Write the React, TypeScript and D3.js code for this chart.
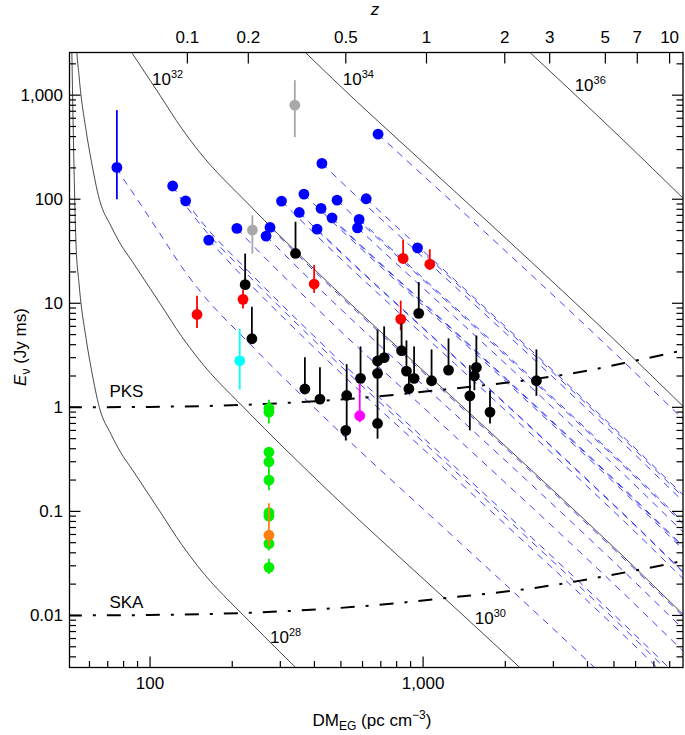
import React from 'react';
import * as d3 from 'd3';

const templateDM = [51.5, 52.5, 53.5, 55, 58.3, 61, 65.2, 72, 78, 86, 100, 108.8, 130.6, 149.8, 232, 380, 571, 822, 1306, 2042, 2493, 4188, 5395, 8913, 9500];
const templateE28 = [5000, 300, 40, 15, 4.6, 2.3, 1.0, 0.55, 0.37, 0.253, 0.139, 0.0995, 0.0479, 0.0296, 0.00869, 0.00241, 8.7e-4, 3.61e-4, 1.19e-4, 4.04e-5, 2.49e-5, 6.98e-6, 3.72e-6, 1.035e-6, 8.8e-7];

const energyExps = [28, 30, 32, 34, 36];
// label anchors [DM, E] (left edge, baseline)
const energyLabelPos: [number, number][] = [[275, 0.00544], [1546, 0.00828], [101.7, 1253], [508, 1253], [3589, 1097]];

// survey sensitivity lines
const pksDM = [50, 100, 250, 586, 1306, 2600, 4000, 5957, 8473, 9500];
const pksE = [1.0, 1.01, 1.07, 1.23, 1.52, 1.88, 2.25, 2.8, 3.42, 3.7];
const skaDM = [50, 100, 250, 586, 1306, 2600, 4000, 5957, 8473, 9500];
const skaE = [0.01, 0.0101, 0.0107, 0.0122, 0.015, 0.0185, 0.0222, 0.027, 0.0325, 0.035];

// bursts: [DM, E, low, high]
const blueBursts: number[][] = [
  [75.6, 202, 100, 718], [121, 134, 134, 134], [135, 96.5, 96.5, 96.5], [164, 40.5, 40.5, 40.5],
  [208, 52.4, 52.4, 52.4], [266, 44.2, 44.2, 44.2], [275, 53.6, 53.6, 53.6], [303, 96, 96, 96],
  [352, 74.6, 74.6, 74.6], [366, 112, 112, 112], [409, 51.6, 51.6, 51.6], [423, 81.6, 81.6, 81.6],
  [426, 221, 221, 221], [464, 66.2, 66.2, 66.2], [484, 98, 98, 98], [575, 53.1, 53.1, 53.1],
  [583, 64, 64, 64], [619, 101, 101, 101], [684, 422, 422, 422], [954, 34.1, 34.1, 34.1],
];
const blackBursts: number[][] = [
  [223, 15.1, 15.1, 30], [236, 4.56, 4.56, 9.25], [341, 30.1, 30.1, 60.7], [369, 1.5, 1.5, 3.03],
  [419, 1.2, 1.2, 2.43], [525, 1.3, 0.6, 2.6], [521, 0.6, 0.48, 0.6], [590, 1.9, 1.9, 3.85],
  [681, 2.79, 2.79, 5.6], [720, 3.0, 3.0, 6.0], [681, 2.12, 2.12, 2.79], [681, 0.7, 0.5, 2.12],
  [834, 3.5, 3.5, 6.4], [869, 2.23, 2.23, 4.4], [927, 1.9, 1.9, 3.85], [887, 1.51, 1.35, 2.23],
  [964, 8.0, 8.0, 16], [1074, 1.8, 1.8, 3.6], [1239, 2.28, 2.28, 4.6], [1567, 2.42, 2.42, 4.9],
  [1541, 2.0, 1.46, 2.42], [1483, 1.29, 0.6, 2.54], [1758, 0.9, 0.7, 1.45], [2600, 1.8, 1.29, 3.6],
];
const redBursts: number[][] = [
  [148.6, 7.8, 5.8, 11.8], [219, 10.9, 8.9, 13.4], [399, 15.3, 12.6, 23.3],
  [845, 27, 24, 41], [1058, 23.7, 21, 33], [828, 7.05, 5.5, 10.6],
];
const grayBursts: number[][] = [[339, 801, 395, 1393], [237, 50.5, 30, 70]];
const cyanBursts: number[][] = [[213, 2.8, 1.48, 5.66]];
const magentaBursts: number[][] = [[586, 0.83, 0.72, 1.68]];
const greenBursts: number[][] = [
  [272.5, 0.98, 0.9, 1.18], [272.5, 0.9, 0.7, 0.98], [272.5, 0.37, 0.3, 0.37], [272.5, 0.3, 0.3, 0.37],
  [272.5, 0.2, 0.16, 0.3], [272.5, 0.097, 0.09, 0.1], [272.5, 0.09, 0.09, 0.097],
  [272.5, 0.049, 0.042, 0.06], [272.5, 0.029, 0.025, 0.035],
];
const orangeBursts: number[][] = [[272.5, 0.059, 0.046, 0.12]];

// axes
const xTickVals = [100, 1000];
const xTickLabels = ['100', '1,000'];
const yTickVals = [0.01, 0.1, 1, 10, 100, 1000];
const yTickLabels = ['0.01', '0.1', '1', '10', '100', '1,000'];
const zTickLabels = ['0.1', '0.2', '0.5', '1', '2', '3', '5', '7', '10'];
const zTickDM = [137, 229, 521, 1029, 1991, 2908, 4650, 6087, 7993];

const W = 685, H = 735;
const X0 = 69.5, X1 = 683, Y0 = 52.5, Y1 = 667.5;
const FONT = '"Liberation Sans", Arial, Helvetica, sans-serif';

function templateAt(dm: number): number {
  const lx = Math.log10(dm);
  for (let i = 0; i < templateDM.length - 1; i++) {
    const a = Math.log10(templateDM[i]), b = Math.log10(templateDM[i + 1]);
    if (lx >= a && lx <= b) {
      const t = (lx - a) / (b - a);
      return 10 ** (Math.log10(templateE28[i]) * (1 - t) + Math.log10(templateE28[i + 1]) * t);
    }
  }
  return templateE28[templateE28.length - 1];
}

const isMajor = (v: number) => Math.abs(Math.log10(v) - Math.round(Math.log10(v))) < 1e-6;

export default function App() {
  const x = d3.scaleLog().domain([50.7, 8950]).range([X0, X1]);
  const y = d3.scaleLog().domain([0.00316, 2570]).range([Y1, Y0]);
  const line = d3.line<[number, number]>().x(d => x(d[0])).y(d => y(d[1])).curve(d3.curveMonotoneX);

  const xMinor = x.ticks().filter(v => !isMajor(v));
  const yAll = y.ticks();

  const groups: [number[][], string][] = [
    [blueBursts, '#0000ff'], [grayBursts, '#a8a8a8'], [redBursts, '#ff0000'], [cyanBursts, '#00ffff'],
    [magentaBursts, '#ff00ff'], [blackBursts, '#000000'], [greenBursts, '#00ee00'], [orangeBursts, '#ff7f0e'],
  ];

  return (
    <div style={{ position: 'absolute', left: 0, top: 0 }}>
      <svg width={W} height={H} style={{ display: 'block', background: '#fff' }} fontFamily={FONT}>
        <defs>
          <clipPath id="plot"><rect x={X0} y={Y0} width={X1 - X0} height={Y1 - Y0} /></clipPath>
        </defs>

        <g clipPath="url(#plot)">
          {energyExps.map(ex => (
            <path key={ex} d={line(templateDM.map((dm, i) => [dm, templateE28[i] * 10 ** (ex - 28)] as [number, number])) || ''}
              fill="none" stroke="#333" strokeWidth={0.9} />
          ))}
          {blueBursts.map((b, i) => {
            const k = b[1] / templateAt(b[0]);
            const pts: [number, number][] = [[b[0], b[1]]];
            templateDM.forEach((dm, j) => { if (dm > b[0] * 1.03) pts.push([dm, templateE28[j] * k]); });
            return <path key={i} d={line(pts) || ''} fill="none" stroke="#2a2aff" strokeWidth={0.9} strokeDasharray="7,6" />;
          })}
          <path d={line(pksDM.map((d, i) => [d, pksE[i]] as [number, number])) || ''} fill="none" stroke="#000" strokeWidth={2} strokeDasharray="14,11,3,11" />
          <path d={line(skaDM.map((d, i) => [d, skaE[i]] as [number, number])) || ''} fill="none" stroke="#000" strokeWidth={2} strokeDasharray="14,11,3,11" />
        </g>

        {groups.map(([data, color], gi) => (
          <g key={gi}>
            {data.map((b, i) => (b[2] !== b[3] ? (
              <line key={'e' + i} x1={x(b[0])} x2={x(b[0])} y1={y(b[2])} y2={y(b[3])} stroke={color} strokeWidth={1.8} />
            ) : null))}
            {data.map((b, i) => <circle key={'c' + i} cx={x(b[0])} cy={y(b[1])} r={5.4} fill={color} />)}
          </g>
        ))}

        {/* energy labels */}
        {energyExps.map((ex, i) => (
          <text key={ex} x={x(energyLabelPos[i][0])} y={y(energyLabelPos[i][1])} fontSize={17} fill="#000">
            10<tspan fontSize={11} dy={-7}>{ex}</tspan>
          </text>
        ))}
        <text x={x(71)} y={y(1.26)} fontSize={17}>PKS</text>
        <text x={x(71)} y={y(0.0118)} fontSize={17}>SKA</text>

        {/* frame */}
        <rect x={X0} y={Y0} width={X1 - X0} height={Y1 - Y0} fill="none" stroke="#000" strokeWidth={1.3} />

        {/* bottom axis */}
        {xTickVals.map((v, i) => (
          <g key={v}>
            <line x1={x(v)} x2={x(v)} y1={Y1} y2={Y1 - 11} stroke="#000" strokeWidth={1.2} />
            <text x={x(v)} y={689} textAnchor="middle" fontSize={17}>{xTickLabels[i]}</text>
          </g>
        ))}
        {xMinor.map(v => <line key={v} x1={x(v)} x2={x(v)} y1={Y1} y2={Y1 - 6.5} stroke="#000" strokeWidth={1.2} />)}

        {/* top axis (redshift) */}
        {zTickDM.map((dm, i) => (
          <g key={i}>
            <line x1={x(dm)} x2={x(dm)} y1={Y0} y2={Y0 + 11} stroke="#000" strokeWidth={1.2} />
            <text x={x(dm)} y={43} textAnchor="middle" fontSize={17}>{zTickLabels[i]}</text>
          </g>
        ))}

        {/* left & right axes */}
        {yAll.map(v => {
          const len = isMajor(v) ? 11 : 6.5;
          return (
            <g key={v}>
              <line x1={X0} x2={X0 + len} y1={y(v)} y2={y(v)} stroke="#000" strokeWidth={1.2} />
              <line x1={X1} x2={X1 - len} y1={y(v)} y2={y(v)} stroke="#000" strokeWidth={1.2} />
            </g>
          );
        })}
        {yTickVals.map((v, i) => (
          <text key={v} x={63} y={y(v) + 6} textAnchor="end" fontSize={17}>{yTickLabels[i]}</text>
        ))}

        {/* axis titles */}
        <text x={372} y={726} textAnchor="middle" fontSize={17}>
          DM<tspan fontSize={12} dy={4}>EG</tspan><tspan dy={-4}> (pc cm</tspan><tspan fontSize={12} dy={-7}>−3</tspan><tspan dy={7}>)</tspan>
        </text>
        <text x={375} y={15} textAnchor="middle" fontSize={17} fontStyle="italic">z</text>
        <text transform="translate(26,347) rotate(-90)" textAnchor="middle" fontSize={17}>
          <tspan fontStyle="italic">E</tspan><tspan fontSize={12} dy={4}>ν</tspan><tspan dy={-4}> (Jy ms)</tspan>
        </text>
      </svg>
    </div>
  );
}
